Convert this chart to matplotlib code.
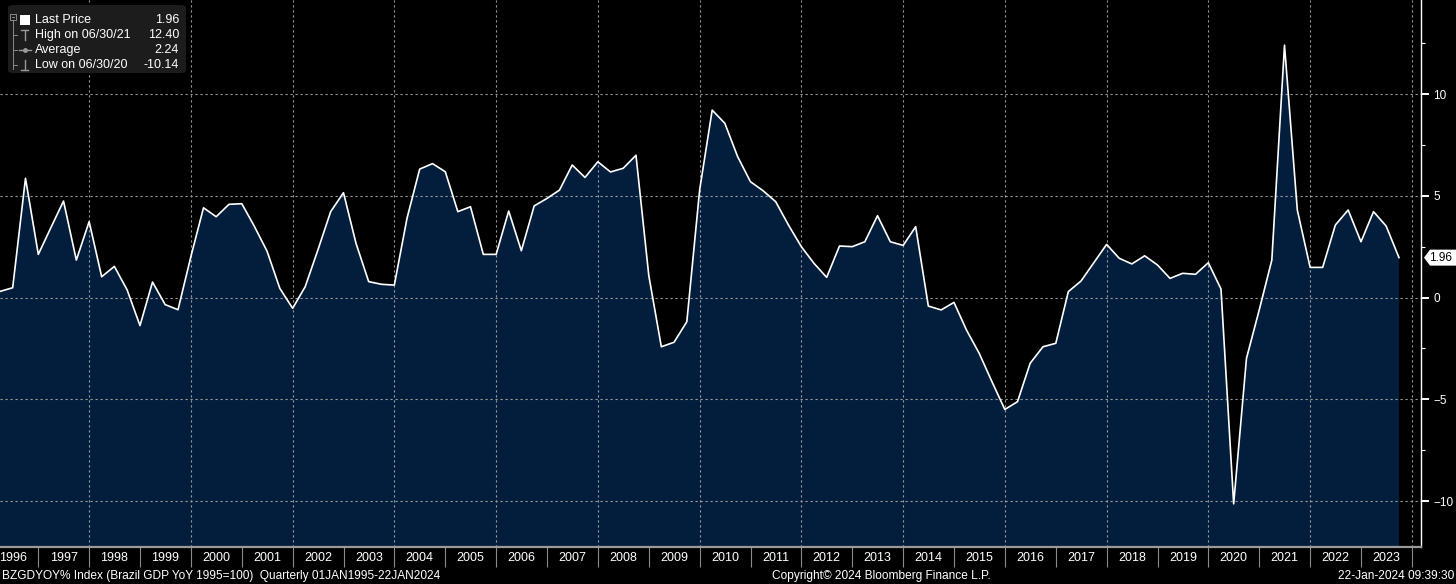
import numpy as np
import pandas as pd
import matplotlib
matplotlib.use("Agg")
import matplotlib.pyplot as plt
import matplotlib.dates as mdates
import matplotlib.transforms as mtransforms
from matplotlib.patches import FancyBboxPatch, Polygon, Rectangle
from matplotlib.lines import Line2D

# quarterly Brazil GDP YoY %, Q1 1996 .. Q3 2023
first_quarter = "1996-03-31"
gdp_yoy = [
    0.30, 0.48, 5.86, 2.12, 3.43, 4.74, 1.84, 3.73, 1.02, 1.53,
    0.37, -1.38, 0.76, -0.35, -0.60, 2.00, 4.41, 3.97, 4.58, 4.61,
    3.50, 2.28, 0.45, -0.53, 0.53, 2.33, 4.22, 5.15, 2.66, 0.78,
    0.65, 0.61, 3.89, 6.31, 6.58, 6.18, 4.22, 4.46, 2.12, 2.12,
    4.25, 2.30, 4.50, 4.87, 5.28, 6.51, 5.90, 6.67, 6.17, 6.35,
    6.99, 1.08, -2.42, -2.20, -1.19, 5.28, 9.21, 8.56, 6.92, 5.69,
    5.25, 4.71, 3.56, 2.50, 1.68, 0.99, 2.53, 2.50, 2.74, 4.02,
    2.74, 2.56, 3.48, -0.42, -0.61, -0.24, -1.60, -2.74, -4.14, -5.50,
    -5.12, -3.23, -2.42, -2.25, 0.29, 0.81, 1.71, 2.61, 1.93, 1.65,
    2.05, 1.60, 0.94, 1.19, 1.14, 1.71, 0.42, -10.14, -2.99, -0.60,
    1.84, 12.40, 4.30, 1.48, 1.48, 3.56, 4.30, 2.74, 4.22, 3.51,
    1.96,
]

legend_labels = ["Last Price", "High on 06/30/21", "Average", "Low on 06/30/20"]
legend_values = ["1.96", "12.40", "2.24", "-10.14"]

footer_left = "BZGDYOY% Index (Brazil GDP YoY 1995=100)  Quarterly 01JAN1995-22JAN2024"
footer_mid = "Copyright\u00a9 2024 Bloomberg Finance L.P."
footer_right = "22-Jan-2024 09:39:30"

W, H = 1456, 584
FILL = "#031e3c"
GRID = "#9a9a9a"
SEP = "#8a8a8a"

plt.rcParams["font.family"] = ["Liberation Sans", "DejaVu Sans"]

dates = pd.date_range(first_quarter, periods=len(gdp_yoy), freq="QE")
x = mdates.date2num(dates)
y = np.array(gdp_yoy)

fig = plt.figure(figsize=(W / 100, H / 100), dpi=100, facecolor="black")


def fx(px):
    return px / W


def fy(py):
    return 1 - py / H


ax = fig.add_axes([0, fy(547), fx(1421), 547 / H])
ax.set_facecolor("black")

ax.fill_between(x, y, -20, color=FILL, lw=0, zorder=1)
ax.plot(x, y, color="white", lw=1.2, zorder=4)

ax.set_xlim(x[0], mdates.date2num(pd.Timestamp("2024-03-06")))
ax.set_ylim(-12.26, 14.62)

# grid
for yr in range(1998, 2025, 2):
    ax.axvline(mdates.date2num(pd.Timestamp(f"{yr}-01-01")), color=GRID,
               lw=0.8, ls=(0, (2, 2.5)), zorder=3)
for v in [-10, -5, 0, 5, 10]:
    ax.axhline(v, color=GRID, lw=0.8, ls=(0, (2, 2.5)), zorder=3)

# x axis: separators at year start, labels mid-year
ax.xaxis.set_major_locator(mdates.YearLocator(1))
ax.xaxis.set_major_formatter(plt.NullFormatter())
ax.xaxis.set_minor_locator(mdates.MonthLocator(bymonth=7, bymonthday=1))
ax.xaxis.set_minor_formatter(mdates.DateFormatter("%Y"))
ax.tick_params(axis="x", which="major", direction="out", length=14.5,
               width=0.8, color=SEP)
ax.tick_params(axis="x", which="minor", length=0, pad=3.5,
               labelsize=9, labelcolor="white")

# y axis on the right
ax.yaxis.tick_right()
ax.set_yticks([-10, -5, 0, 5, 10])
ax.set_yticks(np.arange(-10, 12.6, 2.5), minor=True)
ax.tick_params(axis="y", which="major", direction="out", length=6, width=1.4,
               color="white", labelcolor="white", labelsize=8.5, pad=3)
ax.tick_params(axis="y", which="minor", direction="out", length=3, width=0.8,
               color="white")

for s in ["top", "left"]:
    ax.spines[s].set_visible(False)
ax.spines["right"].set_color("white")
ax.spines["right"].set_linewidth(1.0)
ax.spines["bottom"].set_color("#9a9a9a")
ax.spines["bottom"].set_linewidth(1.6)

# last value tag on the right axis
last = gdp_yoy[-1]
anchor = mtransforms.blended_transform_factory(ax.transAxes, ax.transData)
tag_tr = fig.dpi_scale_trans + mtransforms.ScaledTranslation(1.0, last, anchor)
tag = Polygon([(0.03, 0), (0.09, 0.08), (0.35, 0.08), (0.35, -0.08), (0.09, -0.08)],
              closed=True, facecolor="white", edgecolor="none",
              transform=tag_tr, clip_on=False, zorder=6)
ax.add_patch(tag)
ax.annotate(f"{last:.2f}", xy=(1.0, last), xycoords=anchor, xytext=(5.5, -0.5),
            textcoords="offset points", ha="left", va="center", fontsize=8.5,
            color="black", zorder=7, annotation_clip=False)

# legend panel
fig.add_artist(FancyBboxPatch((fx(8), fy(73)), fx(178), 68 / H,
                              boxstyle="round,pad=0,rounding_size=0.004",
                              transform=fig.transFigure, facecolor="#1c1c1c",
                              edgecolor="none", zorder=10))
rows = [20, 35, 50, 65]
for lab, val, ry in zip(legend_labels, legend_values, rows):
    fig.text(fx(35), fy(ry), lab, fontsize=9, color="white", va="center",
             ha="left", zorder=11)
    fig.text(fx(179), fy(ry), val, fontsize=9, color="white", va="center",
             ha="right", zorder=11)

tree = "#8a8a8a"
fig.add_artist(Rectangle((fx(10), fy(20)), fx(6), 6 / H, transform=fig.transFigure,
                         facecolor="none", edgecolor=tree, lw=0.7, zorder=11))
fig.add_artist(Line2D([fx(11.5), fx(14.5)], [fy(17), fy(17)], color=tree, lw=0.7,
                      zorder=11))
fig.add_artist(Line2D([fx(13), fx(13)], [fy(20), fy(69)], color=tree, lw=0.7,
                      zorder=11))
for ry in rows[1:]:
    fig.add_artist(Line2D([fx(13), fx(17)], [fy(ry), fy(ry)], color=tree, lw=0.7,
                          zorder=11))
fig.add_artist(Rectangle((fx(20), fy(25)), fx(10), 10 / H, transform=fig.transFigure,
                         facecolor="white", edgecolor="none", zorder=11))
icon = "#9a9a9a"
# high marker
fig.add_artist(Line2D([fx(21), fx(28)], [fy(30), fy(30)], color=icon, lw=1, zorder=11))
fig.add_artist(Line2D([fx(24.5), fx(24.5)], [fy(30), fy(40)], color=icon, lw=1, zorder=11))
# average marker
fig.add_artist(Line2D([fx(19), fx(31)], [fy(50), fy(50)], color=icon, lw=1, zorder=11))
fig.add_artist(Line2D([fx(25)], [fy(50)], color=icon, marker="o", ms=2.5, zorder=11))
# low marker
fig.add_artist(Line2D([fx(24.5), fx(24.5)], [fy(60), fy(70)], color=icon, lw=1, zorder=11))
fig.add_artist(Line2D([fx(21), fx(28)], [fy(70), fy(70)], color=icon, lw=1, zorder=11))

# footer
fig.text(fx(2), fy(576), footer_left, fontsize=8.6, color="white", va="center", ha="left")
fig.text(fx(772), fy(576), footer_mid, fontsize=8.6, color="white", va="center", ha="left")
fig.text(fx(1454), fy(576), footer_right, fontsize=8.6, color="white", va="center",
         ha="right")

fig.savefig("out.png", dpi=100, facecolor="black")
